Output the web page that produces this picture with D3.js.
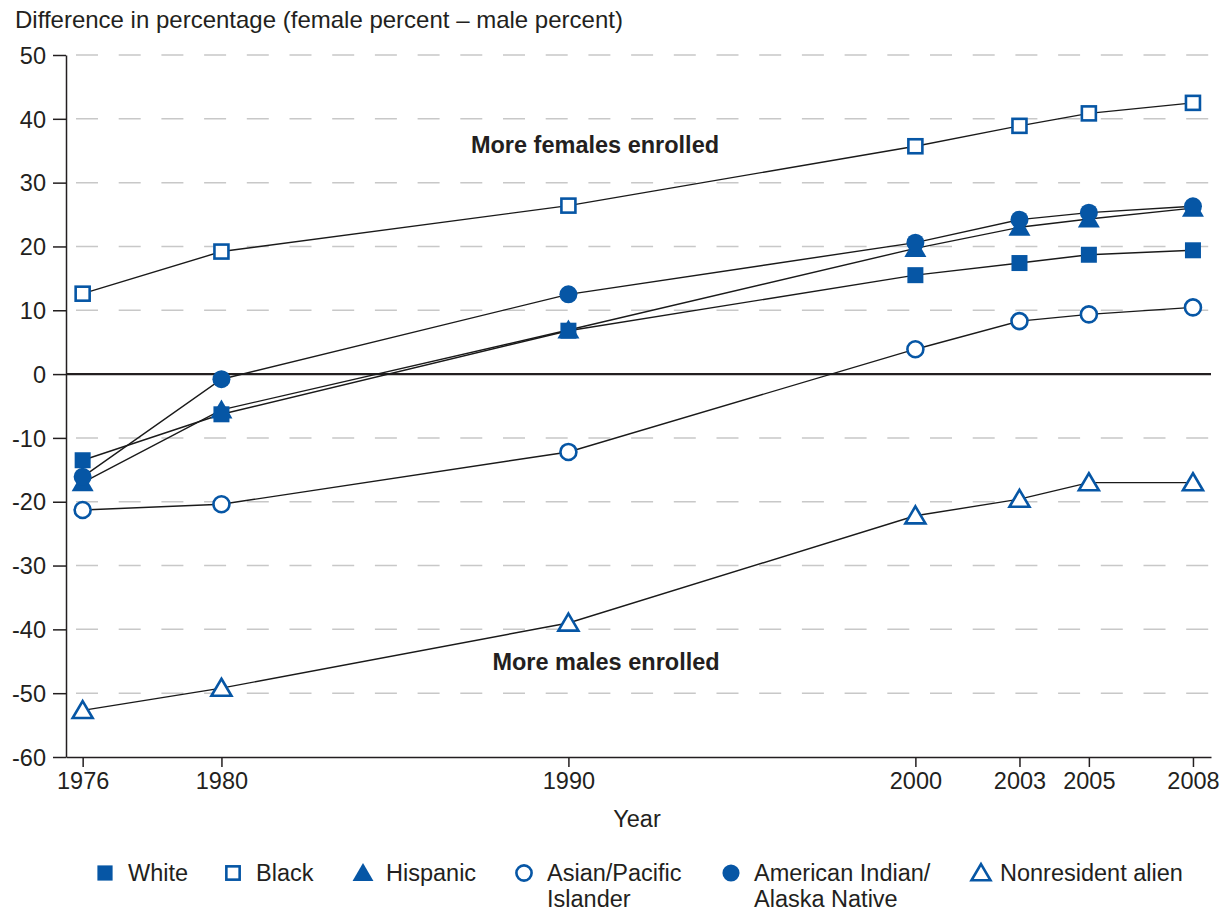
<!DOCTYPE html>
<html><head><meta charset="utf-8">
<script src="https://cdn.jsdelivr.net/npm/d3@7"></script>
<style>
body{margin:0;background:#fff;}
text{font-family:"Liberation Sans",Arial,Helvetica,sans-serif;fill:#231f20;}
</style></head>
<body>
<svg id="chart" width="1232" height="911"></svg>
<script>
const years = [1976, 1980, 1990, 2000, 2003, 2005, 2008];
const white = [-13.5, -6.3, 6.8, 15.5, 17.4, 18.7, 19.4];
const black = [12.6, 19.2, 26.4, 35.7, 38.9, 40.85, 42.5];
const hispanic = [-17.0, -5.6, 6.9, 19.7, 23.0, 24.3, 26.0];
const asian = [-21.3, -20.4, -12.2, 3.9, 8.3, 9.35, 10.45];
const amInd = [-16.1, -0.8, 12.5, 20.6, 24.2, 25.3, 26.3];
const nonres = [-52.7, -49.2, -39.0, -22.2, -19.6, -17.0, -17.0];
const yTicks = [50, 40, 30, 20, 10, 0, -10, -20, -30, -40, -50, -60];
const seriesNames = ["White", "Black", "Hispanic", "Asian/Pacific\nIslander", "American Indian/\nAlaska Native", "Nonresident alien"];

const blue = "#0656a5";
const series = [
  {name: seriesNames[0], values: white, shape: "square", fill: true},
  {name: seriesNames[1], values: black, shape: "square", fill: false},
  {name: seriesNames[2], values: hispanic, shape: "triangle", fill: true},
  {name: seriesNames[3], values: asian, shape: "circle", fill: false},
  {name: seriesNames[4], values: amInd, shape: "circle", fill: true},
  {name: seriesNames[5], values: nonres, shape: "triangle", fill: false}
];

const FS = 23.5;
const svg = d3.select("#chart");
const x = d3.scaleLinear().domain([1975.52, 2008.52]).range([66, 1211]);
const y = d3.scaleLinear().domain([-60, 50]).range([757, 55]);

// gridlines
svg.append("g").selectAll("line").data(yTicks.filter(d => d !== 0 && d !== -60)).join("line")
  .attr("x1", 76).attr("x2", 1211)
  .attr("y1", d => y(d)).attr("y2", d => y(d))
  .attr("stroke", "#c8c8c8").attr("stroke-width", 1.5)
  .attr("stroke-dasharray", "22,20.7");

// zero line
svg.append("line").attr("x1", 66).attr("x2", 1211).attr("y1", y(0)).attr("y2", y(0))
  .attr("stroke", "#231f20").attr("stroke-width", 2.2);

// y axis
const yAxis = svg.append("g").attr("transform", "translate(66,0)")
  .call(d3.axisLeft(y).tickValues(yTicks).tickSize(13).tickSizeOuter(0).tickFormat(d => d));
yAxis.select(".domain").attr("stroke", "#231f20").attr("stroke-width", 1.5);
yAxis.selectAll(".tick line").attr("stroke", "#231f20").attr("stroke-width", 1.5);
yAxis.selectAll(".tick text").attr("font-size", FS).attr("x", -20).attr("dy", "0.35em")
  .style("font-family", '"Liberation Sans",Arial,sans-serif').attr("fill", "#231f20");

// x axis
const xAxis = svg.append("g").attr("transform", `translate(0,${y(-60)})`)
  .call(d3.axisBottom(x).tickValues(years).tickSize(10).tickSizeOuter(0).tickFormat(d3.format("d")));
xAxis.select(".domain").attr("stroke", "#231f20").attr("stroke-width", 1.5);
xAxis.selectAll(".tick line").attr("stroke", "#231f20").attr("stroke-width", 1.5);
xAxis.selectAll(".tick text").attr("font-size", FS).attr("y", 15)
  .style("font-family", '"Liberation Sans",Arial,sans-serif').attr("fill", "#231f20");

// titles
svg.append("text").attr("x", 15).attr("y", 28).attr("font-size", 24)
  .text("Difference in percentage (female percent \u2013 male percent)");
svg.append("text").attr("x", 637).attr("y", 827).attr("font-size", FS).attr("text-anchor", "middle").text("Year");
svg.append("text").attr("x", 595).attr("y", 153).attr("font-size", FS).attr("font-weight", "bold").attr("text-anchor", "middle").text("More females enrolled");
svg.append("text").attr("x", 606).attr("y", 670).attr("font-size", FS).attr("font-weight", "bold").attr("text-anchor", "middle").text("More males enrolled");

// lines
const line = d3.line().x((d, i) => x(years[i])).y(d => y(d));
svg.append("g").selectAll("path").data(series).join("path")
  .attr("d", s => line(s.values)).attr("fill", "none")
  .attr("stroke", "#1a1a1a").attr("stroke-width", 1.4);

function drawMarker(g, shape, filled, cx, cy, scale) {
  const sw = 2.6;
  const fill = filled ? blue : "#fff";
  const stroke = filled ? "none" : blue;
  if (shape === "square") {
    const s = (filled ? 16 : 14) * scale;
    g.append("rect").attr("x", cx - s / 2).attr("y", cy - s / 2).attr("width", s).attr("height", s)
      .attr("fill", fill).attr("stroke", stroke).attr("stroke-width", sw);
  } else if (shape === "circle") {
    const r = (filled ? 9 : 8) * scale;
    g.append("circle").attr("cx", cx).attr("cy", cy).attr("r", r)
      .attr("fill", fill).attr("stroke", stroke).attr("stroke-width", sw);
  } else {
    const w = (filled ? 22 : 20) * scale, h = (filled ? 19 : 17) * scale;
    const pts = [[cx, cy - h * 0.55], [cx + w / 2, cy + h * 0.45], [cx - w / 2, cy + h * 0.45]];
    g.append("path").attr("d", "M" + pts.map(p => p.join(",")).join("L") + "Z")
      .attr("fill", fill).attr("stroke", stroke).attr("stroke-width", sw).attr("stroke-linejoin", "miter");
  }
}

// markers
const mg = svg.append("g");
series.forEach(s => {
  s.values.forEach((v, i) => drawMarker(mg, s.shape, s.fill, x(years[i]), y(v), 1));
});

// legend
const legendX = [105, 233, 363, 524, 731, 981];
const lg = svg.append("g");
series.forEach((s, i) => {
  drawMarker(lg, s.shape, s.fill, legendX[i], 873, 0.95);
  const tx = legendX[i] + (i === 5 ? 19 : 23);
  const t = lg.append("text").attr("x", tx).attr("y", 881).attr("font-size", FS);
  s.name.split("\n").forEach((ln, k) => {
    t.append("tspan").attr("x", tx).attr("dy", k === 0 ? 0 : 26).text(ln);
  });
});
</script>
</body></html>
